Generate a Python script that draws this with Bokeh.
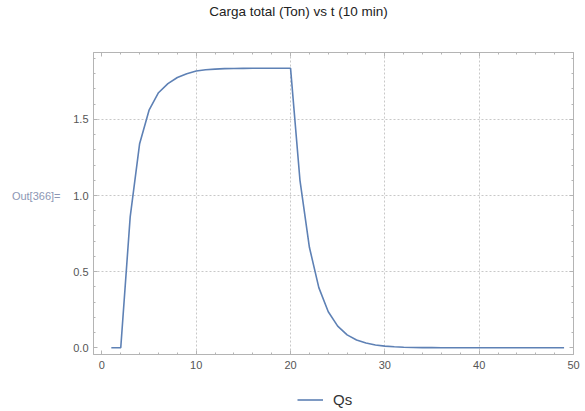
from bokeh.plotting import figure
from bokeh.layouts import column
from bokeh.models import (LinearAxis, FixedTicker, Legend, LegendItem, Grid,
                          ColumnDataSource, Range1d, NumeralTickFormatter)
from bokeh.embed import file_html
from bokeh.resources import INLINE

# ---- data ----
t = list(range(1, 50))
qs = [0.0, 0.0, 0.86, 1.34, 1.56, 1.675, 1.735, 1.775, 1.80, 1.817,
      1.826, 1.830, 1.833, 1.834, 1.835, 1.836, 1.836, 1.836, 1.836, 1.836,
      1.10, 0.66, 0.395, 0.237, 0.142, 0.085, 0.051, 0.031, 0.018, 0.011,
      0.0066, 0.004, 0.0024, 0.0014, 0.0009, 0.0005, 0.0003, 0.0002, 0.0001, 0.0001,
      0.0, 0.0, 0.0, 0.0, 0.0, 0.0, 0.0, 0.0, 0.0]
series_name = "Qs"
title_text = "Carga total (Ton) vs t (10 min)"
title_at = 20.84
out_text = "Out[366]="
out_at = 1.0
x_major = [0, 10, 20, 30, 40, 50]
x_minor = [2, 4, 6, 8, 12, 14, 16, 18, 22, 24, 26, 28, 32, 34, 36, 38, 42, 44, 46, 48]
y_major = [0.0, 0.5, 1.0, 1.5]
y_minor = [0.1, 0.2, 0.3, 0.4, 0.6, 0.7, 0.8, 0.9, 1.1, 1.2, 1.3, 1.4, 1.6, 1.7, 1.8, 1.9]
x_grid = [10, 20, 30, 40]
y_grid = [0.5, 1.0, 1.5]

FONT = "Liberation Sans"
FRAME = "#b4b4b4"
LABEL = "#555555"
LINE = "#5E81B5"

p = figure(width=585, height=380,
           x_range=Range1d(-0.89, 50), y_range=Range1d(-0.044, 1.939),
           output_backend="svg", toolbar_location=None, x_axis_type=None, y_axis_type=None,
           min_border_left=93, min_border_right=12, min_border_top=50, min_border_bottom=26)
p.outline_line_color = FRAME
p.background_fill_color = "white"
p.border_fill_color = "white"


def mk_axis(ticks, minor, labels, fmt=None):
    ax = LinearAxis(ticker=FixedTicker(ticks=ticks, minor_ticks=minor))
    if fmt is not None:
        ax.formatter = fmt
    ax.axis_line_color = FRAME
    ax.major_tick_line_color = FRAME
    ax.minor_tick_line_color = FRAME
    ax.major_tick_in = 4
    ax.major_tick_out = 0
    ax.minor_tick_in = 2
    ax.minor_tick_out = 0
    if labels:
        ax.major_label_text_font = FONT
        ax.major_label_text_font_size = "11px"
        ax.major_label_text_color = LABEL
    else:
        ax.major_label_text_font_size = "0px"
        ax.major_label_standoff = 0
    return ax


xb = mk_axis(x_major, x_minor, True)
xb.major_label_standoff = 6
yl = mk_axis(y_major, y_minor, True, NumeralTickFormatter(format="0.0"))
yl.major_label_standoff = 5
p.add_layout(xb, "below")
p.add_layout(mk_axis(x_major, x_minor, False), "above")
p.add_layout(yl, "left")
p.add_layout(mk_axis(y_major, y_minor, False), "right")

# title, drawn as a label-only axis above the frame
title_ax = LinearAxis(ticker=FixedTicker(ticks=[title_at]),
                      major_label_overrides={title_at: title_text},
                      axis_line_color=None, major_tick_line_color=None, minor_tick_line_color=None,
                      major_label_standoff=28, major_label_text_font=FONT,
                      major_label_text_font_size="13.5px", major_label_text_color="#222222")
p.add_layout(title_ax, "above")

# "Out[366]=" cell marker, drawn as a label-only axis to the left
out_ax = LinearAxis(ticker=FixedTicker(ticks=[out_at]), major_label_overrides={out_at: out_text},
                    axis_line_color=None, major_tick_line_color=None, minor_tick_line_color=None,
                    major_label_standoff=4, major_label_text_font=FONT,
                    major_label_text_font_size="11px", major_label_text_color="#8c96b4")
p.add_layout(out_ax, "left")

for dim, ticks in ((0, x_grid), (1, y_grid)):
    g = Grid(dimension=dim, ticker=FixedTicker(ticks=ticks), grid_line_color="#c8c8c8",
             grid_line_dash="2 2", grid_line_width=1)
    p.add_layout(g)

src = ColumnDataSource(dict(t=t, q=qs))
p.line("t", "q", source=src, line_color=LINE, line_width=1.6)

# legend strip under the chart (its swatch renderer lies outside its own ranges)
p2 = figure(width=585, height=31, x_range=Range1d(100, 101), y_range=Range1d(100, 101),
            output_backend="svg", toolbar_location=None, x_axis_type=None, y_axis_type=None,
            min_border_left=93, min_border_right=12, min_border_top=0, min_border_bottom=0)
p2.outline_line_color = None
p2.background_fill_color = "white"
p2.border_fill_color = "white"
swatch = p2.line("t", "q", source=src, line_color=LINE, line_width=1.6)
leg = Legend(items=[LegendItem(label=series_name, renderers=[swatch])], location=(204, 3),
             orientation="horizontal",
             padding=0, margin=0, spacing=0, glyph_width=26, glyph_height=17,
             label_standoff=10, label_height=17,
             label_text_font=FONT, label_text_font_size="15px",
             label_text_color="#333333", border_line_color=None,
             background_fill_alpha=0)
p2.add_layout(leg, "center")

layout = column(p, p2, spacing=0)
open("out.html", "w").write(file_html(layout, INLINE))
